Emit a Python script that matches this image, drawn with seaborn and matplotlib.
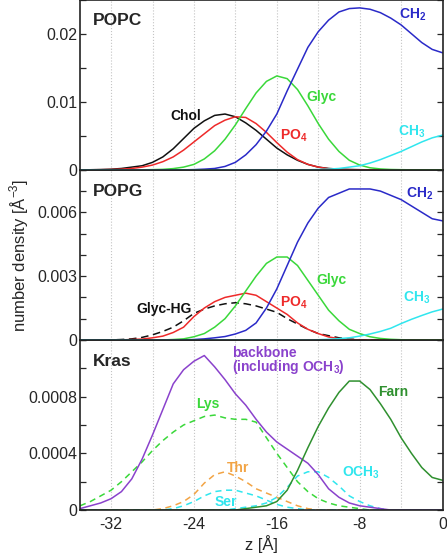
import numpy as np
import matplotlib
matplotlib.use('Agg')
import matplotlib.pyplot as plt
from matplotlib.ticker import MultipleLocator, FixedLocator, FuncFormatter
import seaborn as sns

# z grid [A], one value per Angstrom from -35 to 0
z = np.arange(-35, 1)

# POPC densities
popc_chol = [0, 0.00001, 0.00004, 0.00009, 0.0002, 0.0004, 0.0006, 0.0011, 0.0019, 0.0031,
             0.0046, 0.0061, 0.0072, 0.0080, 0.0082, 0.0078, 0.0069, 0.0058, 0.0045, 0.0032,
             0.0022, 0.0014, 0.0008, 0.0004, 0.0002, 0.0001, 0.00005, 0.00002, 0, 0,
             0, 0, 0, 0, 0, 0]
popc_po4 = [0, 0.00001, 0.00002, 0.00005, 0.0001, 0.0002, 0.0004, 0.0007, 0.0012, 0.0019,
            0.0029, 0.0041, 0.0053, 0.0065, 0.0073, 0.0078, 0.0077, 0.0068, 0.0055, 0.0040,
            0.0026, 0.0015, 0.0008, 0.0004, 0.00016, 0.00006, 0.00002, 0, 0, 0,
            0, 0, 0, 0, 0, 0]
popc_glyc = [0, 0, 0, 0, 0, 0, 0, 0.00003, 0.00007, 0.00018,
             0.0004, 0.0008, 0.0016, 0.0028, 0.0045, 0.0066, 0.0090, 0.0113, 0.0130, 0.0138,
             0.0134, 0.0118, 0.0094, 0.0068, 0.0045, 0.0027, 0.0014, 0.0007, 0.0003, 0.00013,
             0.00005, 0.00002, 0, 0, 0, 0]
popc_ch2 = [0, 0, 0, 0, 0, 0, 0, 0, 0, 0,
            0, 0.00003, 0.0001, 0.0002, 0.0005, 0.0011, 0.0022, 0.0037, 0.0057, 0.0082,
            0.0116, 0.0148, 0.0180, 0.0203, 0.0220, 0.0232, 0.0237, 0.0238, 0.0236, 0.0231,
            0.0223, 0.0213, 0.0200, 0.0187, 0.0177, 0.0172]
popc_ch3 = [0, 0, 0, 0, 0, 0, 0, 0, 0, 0,
            0, 0, 0, 0, 0, 0, 0, 0, 0, 0,
            0, 0, 0, 0.00005, 0.0001, 0.0002, 0.0004, 0.0006, 0.0010, 0.0015,
            0.0021, 0.0027, 0.0034, 0.0041, 0.0047, 0.0051]

# POPG densities
popg_glychg = [0, 0, 0, 0, 0.00002, 0.00005, 0.00012, 0.00024, 0.0004, 0.0006,
               0.0009, 0.00125, 0.00145, 0.0016, 0.0017, 0.00175, 0.0017, 0.0016, 0.00145, 0.0013,
               0.0010, 0.00075, 0.0005, 0.0003, 0.0002, 0.0001, 0.00004, 0.00001, 0, 0,
               0, 0, 0, 0, 0, 0]
popg_po4 = [0, 0, 0, 0, 0, 0.00002, 0.00004, 0.0001, 0.00018, 0.00035,
            0.0006, 0.0011, 0.0015, 0.0018, 0.0020, 0.0021, 0.0022, 0.0021, 0.0018, 0.0015,
            0.0012, 0.0008, 0.0005, 0.0003, 0.00014, 0.00006, 0.00002, 0, 0, 0,
            0, 0, 0, 0, 0, 0]
popg_glyc = [0, 0, 0, 0, 0, 0, 0, 0, 0, 0.00002,
             0.00005, 0.00015, 0.0003, 0.0006, 0.0010, 0.0016, 0.0023, 0.0030, 0.0036, 0.0039,
             0.0039, 0.0035, 0.0028, 0.0021, 0.0014, 0.0009, 0.0005, 0.0003, 0.00015, 0.00007,
             0.00003, 0.00001, 0, 0, 0, 0]
popg_ch2 = [0, 0, 0, 0, 0, 0, 0, 0, 0, 0,
            0, 0.00002, 0.00005, 0.0001, 0.00016, 0.00028, 0.00045, 0.0008, 0.0015, 0.0024,
            0.0035, 0.0046, 0.0055, 0.0062, 0.0067, 0.0069, 0.0071, 0.0071, 0.0071, 0.0070,
            0.0068, 0.0066, 0.0063, 0.0060, 0.0057, 0.0056]
popg_ch3 = [0, 0, 0, 0, 0, 0, 0, 0, 0, 0,
            0, 0, 0, 0, 0, 0, 0, 0, 0, 0,
            0, 0, 0, 0.00001, 0.00003, 0.00006, 0.0001, 0.00018, 0.00028, 0.0004,
            0.00055, 0.00077, 0.00097, 0.00115, 0.00132, 0.00145]

# Kras densities
kras_backbone = [0.00001, 0.00003, 0.00005, 0.00008, 0.00013, 0.00022, 0.00036, 0.00053, 0.00071, 0.00089,
                 0.00099, 0.00105, 0.00109, 0.00101, 0.00092, 0.00082, 0.00074, 0.00064, 0.00055, 0.00048,
                 0.00043, 0.00038, 0.00033, 0.00025, 0.00015, 0.00009, 0.00005, 0.00003, 0.00002, 0.00001,
                 0, 0, 0, 0, 0, 0]
kras_lys = [0.00003, 0.00006, 0.0001, 0.00014, 0.0002, 0.00027, 0.00034, 0.00042, 0.00049, 0.00055,
            0.0006, 0.00063, 0.00066, 0.00067, 0.00065, 0.00064, 0.00064, 0.00062, 0.00051, 0.0004,
            0.0003, 0.0002, 0.00013, 0.00008, 0.00005, 0.00003, 0.00002, 0.00001, 0, 0,
            0, 0, 0, 0, 0, 0]
kras_thr = [0, 0, 0, 0, 0, 0, 0, 0, 0.00001, 0.00003,
            0.00006, 0.00011, 0.00019, 0.00025, 0.00027, 0.00024, 0.0002, 0.00015, 0.00012, 0.00009,
            0.00006, 0.00003, 0.00001, 0, 0, 0, 0, 0, 0, 0,
            0, 0, 0, 0, 0, 0]
kras_ser = [0, 0, 0, 0, 0, 0, 0, 0, 0, 0.00001,
            0.00003, 0.00006, 0.0001, 0.00013, 0.00014, 0.00014, 0.00012, 0.0001, 0.00007, 0.00004,
            0.00002, 0.00001, 0, 0, 0, 0, 0, 0, 0, 0,
            0, 0, 0, 0, 0, 0]
kras_och3 = [0, 0, 0, 0, 0, 0, 0, 0, 0, 0,
             0, 0, 0, 0, 0, 0.00001, 0.00002, 0.00003, 0.00005, 0.00009,
             0.00016, 0.00024, 0.00027, 0.00027, 0.00023, 0.00017, 0.0001, 0.00006, 0.00003, 0.00001,
             0, 0, 0, 0, 0, 0]
kras_farn = [0, 0, 0, 0, 0, 0, 0, 0, 0, 0,
             0, 0, 0, 0, 0, 0, 0.00001, 0.00002, 0.00003, 0.00006,
             0.00014, 0.00028, 0.00044, 0.00059, 0.00072, 0.00083, 0.00091, 0.00091, 0.00085, 0.00075,
             0.00064, 0.00051, 0.0004, 0.0003, 0.00023, 0.00021]

sns.set_style('white')
plt.rcParams['font.family'] = ['Liberation Sans', 'DejaVu Sans']
plt.rcParams['mathtext.fontset'] = 'custom'
plt.rcParams['mathtext.rm'] = 'Liberation Sans'
plt.rcParams['mathtext.bf'] = 'Liberation Sans:bold'
plt.rcParams['axes.unicode_minus'] = False

BLACK = '#111111'
RED = '#ee2a2a'
GREEN = '#3ad83a'
BLUE = '#2a2ac8'
CYAN = '#30e6ee'
PURPLE = '#8a42cc'
DKGREEN = '#2f902f'
ORANGE = '#f2a445'
DASH = (0, (4, 3))

fig = plt.figure(figsize=(4.47, 5.55), dpi=100)
left, width, h = 0.179, 0.811, 0.3065
ax3 = fig.add_axes([left, 0.081, width, h])
ax2 = fig.add_axes([left, 0.081 + h, width, h], sharex=ax3)
ax1 = fig.add_axes([left, 0.081 + 2 * h, width, h], sharex=ax3)


def line(ax, y, color, ls='-'):
    sns.lineplot(x=z, y=y, ax=ax, color=color, linewidth=1.1, linestyle=ls)


# POPC
line(ax1, popc_chol, BLACK)
line(ax1, popc_po4, RED)
line(ax1, popc_glyc, GREEN)
line(ax1, popc_ch2, BLUE)
line(ax1, popc_ch3, CYAN)

# POPG
line(ax2, popg_glychg, BLACK, (0, (5, 3)))
line(ax2, popg_po4, RED)
line(ax2, popg_glyc, GREEN)
line(ax2, popg_ch2, BLUE)
line(ax2, popg_ch3, CYAN)

# Kras
line(ax3, kras_lys, GREEN, DASH)
line(ax3, kras_thr, ORANGE, DASH)
line(ax3, kras_ser, CYAN, DASH)
line(ax3, kras_och3, CYAN, DASH)
line(ax3, kras_backbone, PURPLE)
line(ax3, kras_farn, DKGREEN)

fmt = FuncFormatter(lambda v, p: '0' if abs(v) < 1e-12 else f'{v:g}')
limits = [(ax1, 0.025, [0, 0.01, 0.02], 0.005),
          (ax2, 0.008, [0, 0.003, 0.006], 0.001),
          (ax3, 0.0012, [0, 0.0004, 0.0008], 0.0002)]
for ax, top, majors, minor in limits:
    ax.set_xlim(-35, 0)
    ax.set_ylim(0, top)
    ax.xaxis.set_major_locator(MultipleLocator(8))
    ax.xaxis.set_minor_locator(MultipleLocator(4))
    ax.yaxis.set_major_locator(FixedLocator(majors))
    ax.yaxis.set_minor_locator(MultipleLocator(minor))
    ax.yaxis.set_major_formatter(fmt)
    ax.grid(True, axis='x', which='both', linestyle=':', color='#c4c4c4', linewidth=0.8)
    ax.set_axisbelow(True)
    ax.tick_params(axis='y', which='both', direction='in', left=True, right=True,
                   length=4.5, width=0.9, labelsize=11.5, pad=2)
    ax.tick_params(axis='x', which='both', length=0, labelsize=11.5, pad=5)
    for s in ax.spines.values():
        s.set_linewidth(1.2)
        s.set_color('#222222')
    ax.set_xlabel('')
    ax.set_ylabel('')
for ax in (ax1, ax2):
    ax.tick_params(axis='x', labelbottom=False)
ax3.set_xticks([-32, -24, -16, -8, 0])

ax3.set_xlabel('z [Å]', fontsize=12, labelpad=2)
fig.text(0.044, 0.54, 'number density [Å$^{-3}$]', rotation=90, fontsize=12,
         ha='center', va='center')

# panel names
for ax, name in ((ax1, 'POPC'), (ax2, 'POPG'), (ax3, 'Kras')):
    ax.text(0.036, 0.875, name, transform=ax.transAxes, fontsize=12.5,
            fontweight='bold', ha='left', va='center')

lab = dict(fontsize=10, fontweight='bold', ha='center', va='center')
ax1.text(-24.8, 0.0079, 'Chol', color=BLACK, **lab)
ax1.text(-14.4, 0.0050, r'PO$_\mathbf{4}$', color=RED, **lab)
ax1.text(-11.7, 0.0107, 'Glyc', color=GREEN, **lab)
ax1.text(-2.9, 0.0228, r'CH$_\mathbf{2}$', color=BLUE, **lab)
ax1.text(-3.0, 0.0056, r'CH$_\mathbf{3}$', color=CYAN, **lab)

ax2.text(-26.9, 0.00146, 'Glyc-HG', color=BLACK, **lab)
ax2.text(-14.4, 0.00177, r'PO$_\mathbf{4}$', color=RED, **lab)
ax2.text(-10.7, 0.00284, 'Glyc', color=GREEN, **lab)
ax2.text(-2.2, 0.00687, r'CH$_\mathbf{2}$', color=BLUE, **lab)
ax2.text(-2.5, 0.00198, r'CH$_\mathbf{3}$', color=CYAN, **lab)

ax3.text(-20.3, 0.00105, 'backbone\n' + r'(including OCH$_\mathbf{3}$)', color=PURPLE,
         fontsize=10, fontweight='bold', ha='left', va='center', linespacing=0.85)
ax3.text(-22.7, 0.00075, 'Lys', color=GREEN, **lab)
ax3.text(-4.8, 0.00083, 'Farn', color=DKGREEN, **lab)
ax3.text(-19.7, 0.00030, 'Thr', color=ORANGE, **lab)
ax3.text(-7.9, 0.00026, r'OCH$_\mathbf{3}$', color=CYAN, **lab)
ax3.text(-20.9, 0.00006, 'Ser', color=CYAN, **lab)

fig.savefig('out.png', dpi=100)
